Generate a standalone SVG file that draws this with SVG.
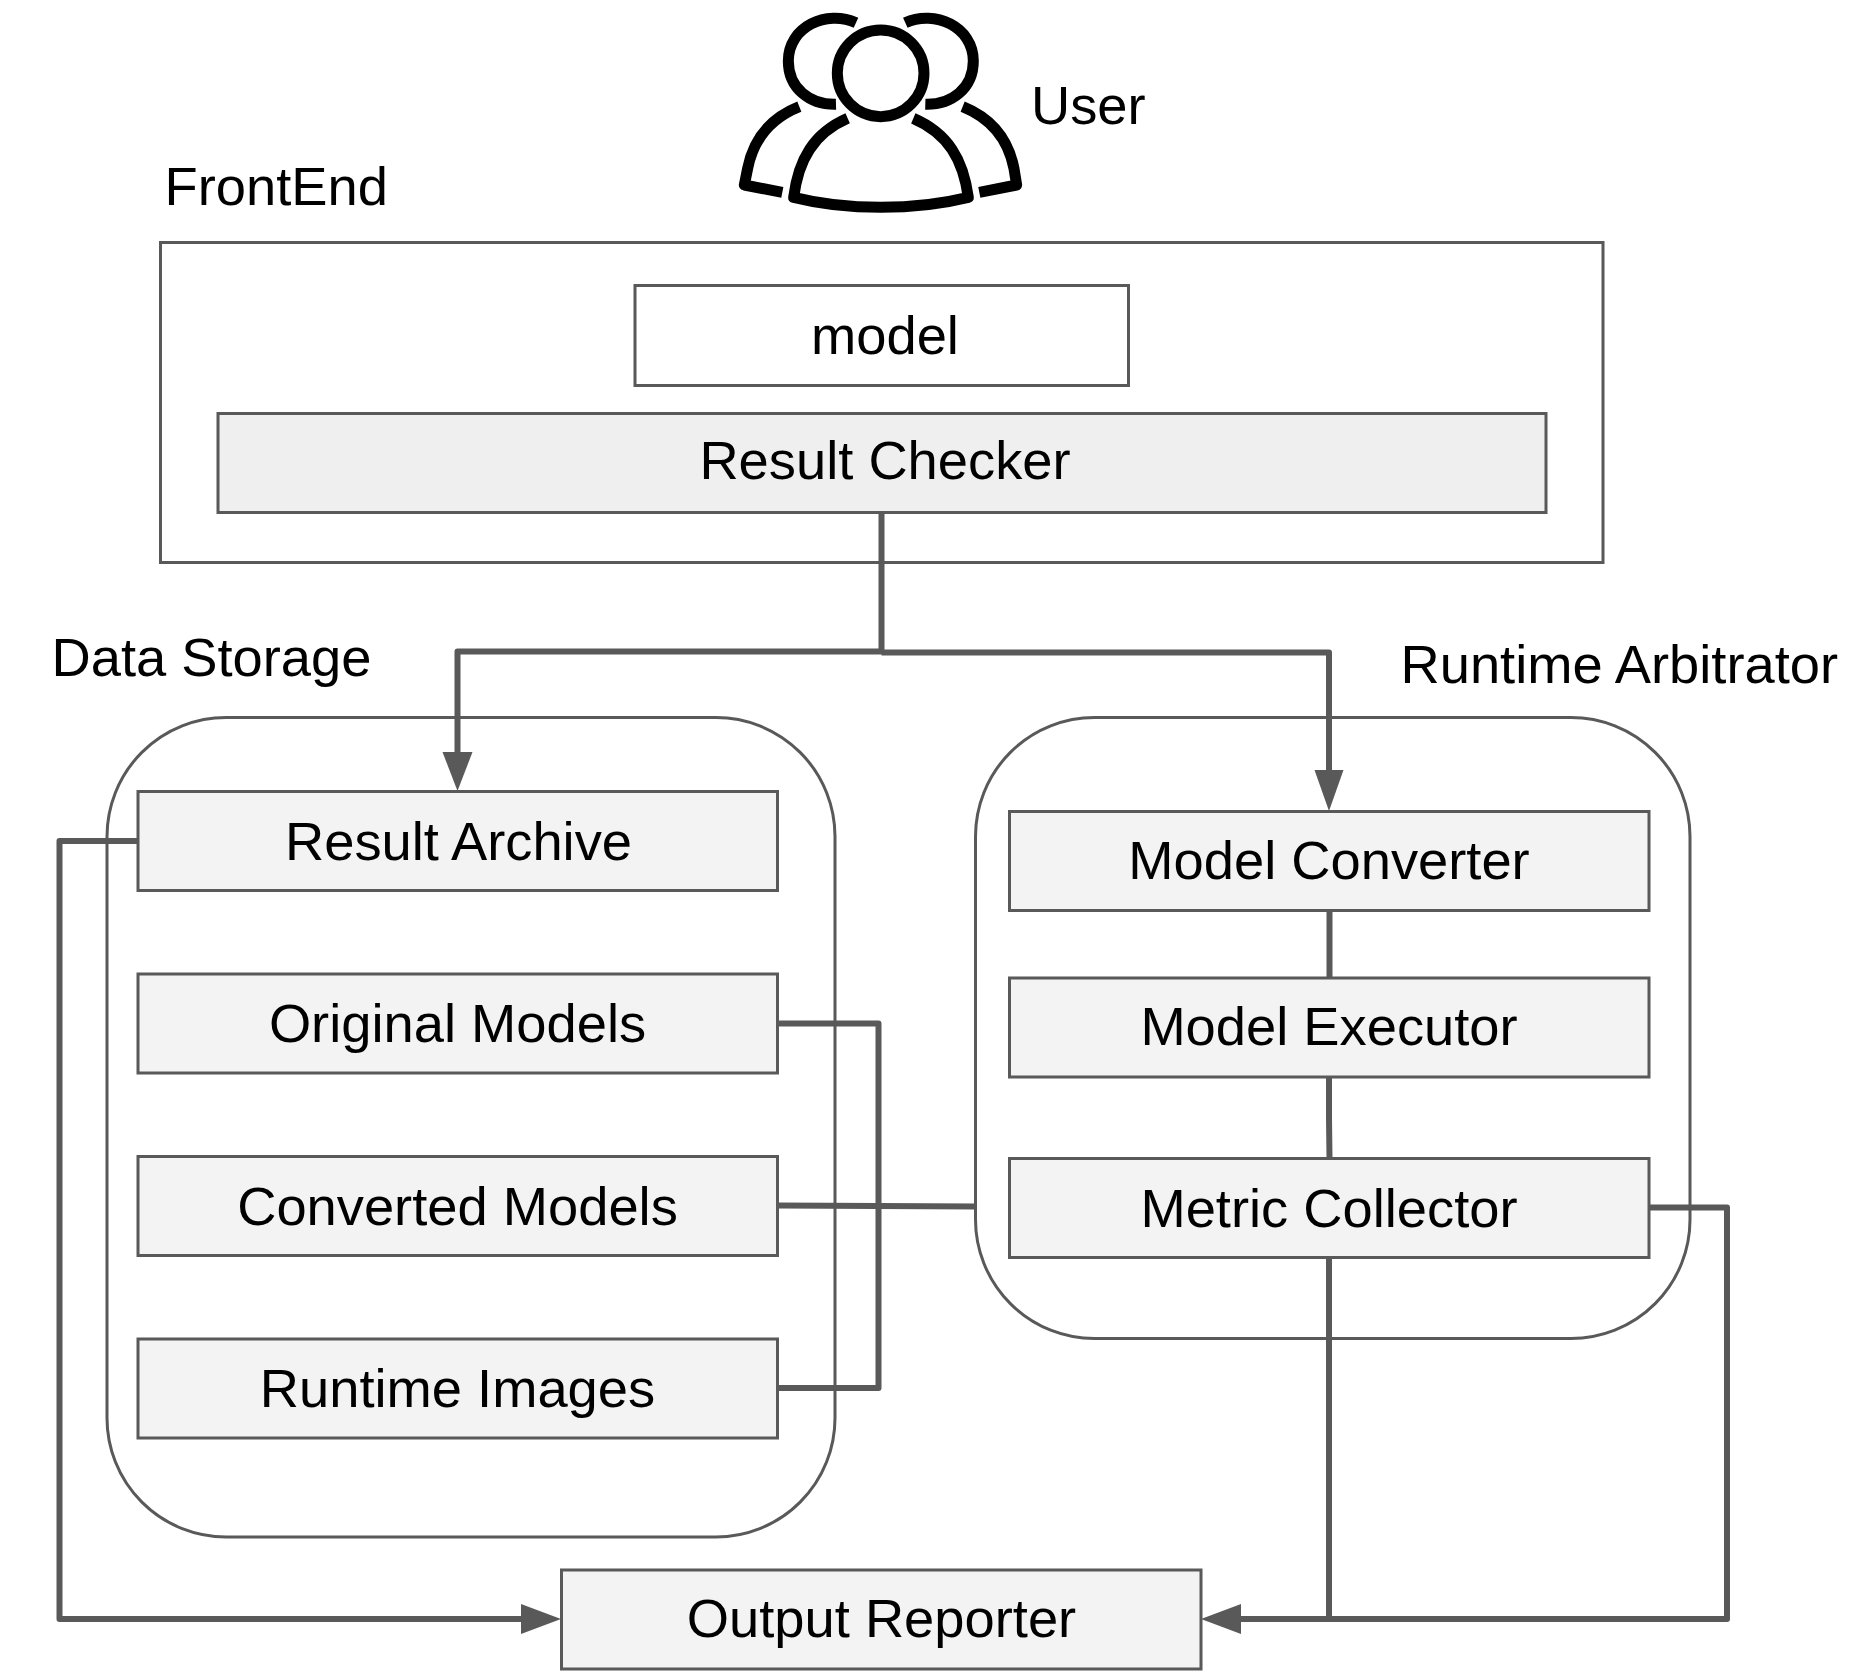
<svg xmlns="http://www.w3.org/2000/svg" width="1863" height="1679" viewBox="0 0 1863 1679">
<style>
text{font-family:"Liberation Sans",Arial,sans-serif;font-size:54.3px;fill:#000}
.c{text-anchor:middle}
.box{fill:#f3f3f3;stroke:#595959;stroke-width:3}
.plain{fill:none;stroke:#595959;stroke-width:3}
.conn{fill:none;stroke:#595959;stroke-width:6;stroke-linejoin:round}
.icon{fill:none;stroke:#000;stroke-width:33;stroke-linejoin:round}
</style>
<rect width="1863" height="1679" fill="#fff"/>
<g id="user">
<g transform="translate(700 0) scale(.3333)" class="icon">
<circle cx="542" cy="220" r="130"/>
<path d="M468 68C380 28 265 80 265 183C265 265 330 315 408 313"/>
<path d="M616 68C704 28 820 80 820 183C820 265 755 315 676 313"/>
<path d="M443 355C340 400 295 480 281 592Q400 622 542 622T805 592C790 480 745 400 640 355"/>
<path d="M298 320C210 355 160 420 143 505L133 555L247 577"/>
<path d="M788 320C875 355 925 420 942 505L950 555L838 577"/>
</g>
<text x="1031" y="124">User</text>
</g>
<g id="frontend">
<text x="164.500" y="205">FrontEnd</text>
<rect class="plain" x="160.500" y="242.500" width="1442.500" height="320"/>
</g>
<g id="model"><rect x="635" y="285.500" width="493.500" height="100" fill="#fff" stroke="#595959" stroke-width="3"/><text class="c" x="885" y="354">model</text></g>
<g id="result-checker"><rect x="218" y="413.500" width="1328" height="99" fill="#efefef" stroke="#595959" stroke-width="3"/><text class="c" x="885" y="479">Result Checker</text></g>
<g id="connectors">
<path class="conn" d="M881.500 513V651.500H457.500V752"/>
<path d="M442.500 752H472.500L457.500 791Z" fill="#595959"/>
<path class="conn" d="M881.500 652.500H1329V770"/>
<path d="M1314.500 770H1343.500L1329 811Z" fill="#595959"/>
<path class="conn" d="M138 841H59.500V1619H521"/>
<path d="M521 1604V1634L561 1619Z" fill="#595959"/>
<path class="conn" d="M778 1023.500H878.500V1388H778"/>
<path class="conn" d="M778 1205.500L977 1206.500"/>
<path class="conn" d="M1329.500 911V978"/>
<path class="conn" d="M1329 1077V1118L1329.500 1158"/>
<path class="conn" d="M1329 1258V1619"/>
<path class="conn" d="M1649 1207.500H1727V1619H1241"/>
<path d="M1241 1604V1634L1201 1619Z" fill="#595959"/>
</g>
<g id="data-storage">
<text x="51.500" y="676">Data Storage</text>
<rect class="plain" x="107" y="717.500" width="728" height="819.500" rx="119" ry="119"/>
</g>
<g id="runtime-arbitrator">
<text x="1400.500" y="683">Runtime Arbitrator</text>
<rect class="plain" x="975.500" y="717.500" width="714.500" height="621" rx="119" ry="119"/>
</g>
<g id="result-archive"><rect class="box" x="138" y="791.500" width="639.500" height="99"/><text class="c" x="458.500" y="860">Result Archive</text></g>
<g id="original-models"><rect class="box" x="138" y="974" width="639.500" height="99"/><text class="c" x="457.500" y="1042">Original Models</text></g>
<g id="converted-models"><rect class="box" x="138" y="1156.500" width="639.500" height="99"/><text class="c" x="457.500" y="1225">Converted Models</text></g>
<g id="runtime-images"><rect class="box" x="138" y="1339" width="639.500" height="99"/><text class="c" x="457.500" y="1407">Runtime Images</text></g>
<g id="model-converter"><rect class="box" x="1009.500" y="811.500" width="639.500" height="99"/><text class="c" x="1329" y="879">Model Converter</text></g>
<g id="model-executor"><rect class="box" x="1009.500" y="978" width="639.500" height="99"/><text class="c" x="1329" y="1045">Model Executor</text></g>
<g id="metric-collector"><rect class="box" x="1009.500" y="1158.500" width="639.500" height="99"/><text class="c" x="1329" y="1227">Metric Collector</text></g>
<g id="output-reporter"><rect class="box" x="561.500" y="1570" width="639.500" height="99"/><text class="c" x="881.500" y="1637">Output Reporter</text></g>
</svg>
